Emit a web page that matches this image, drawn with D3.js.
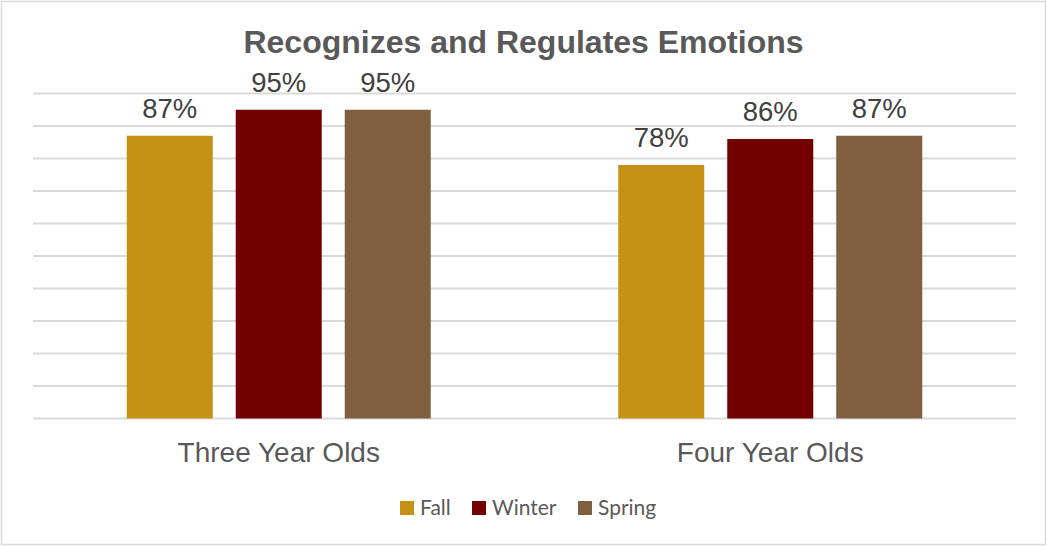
<!DOCTYPE html>
<meta charset="utf-8">
<body style="margin:0;background:#fff">
<div id="chart"></div>
<script src="https://d3js.org/d3.v7.min.js"></script>
<script>
var categories = ["Three Year Olds", "Four Year Olds"];
var seasons = ["Fall", "Winter", "Spring"];
var fall = [0.87, 0.78];
var winter = [0.95, 0.86];
var spring = [0.95, 0.87];
var yTicks = [0, 0.1, 0.2, 0.3, 0.4, 0.5, 0.6, 0.7, 0.8, 0.9, 1.0];

var colors = {Fall: "#C59214", Winter: "#720000", Spring: "#7F5F3F"};
var seriesVals = {Fall: fall, Winter: winter, Spring: spring};

var W = 1047, H = 546;
var margin = {top: 93.5, left: 33, right: 31, bottom: 127.5};
var width = W - margin.left - margin.right,
    height = H - margin.top - margin.bottom;

var svg = d3.select("#chart").append("svg")
  .attr("width", W).attr("height", H);

svg.append("rect")
  .attr("x", 1.5).attr("y", 1.5)
  .attr("width", W - 3).attr("height", H - 3)
  .attr("fill", "#fff").attr("stroke", "#D9D9D9").attr("stroke-width", 1.5);

svg.append("text")
  .attr("x", W / 2).attr("y", 53)
  .attr("text-anchor", "middle")
  .style("font-family", "Arial, 'Liberation Sans', sans-serif")
  .style("font-weight", "bold").style("font-size", "32px")
  .attr("fill", "#595959")
  .text("Recognizes and Regulates Emotions");

var g = svg.append("g").attr("transform", "translate(" + margin.left + "," + margin.top + ")");

var x0 = d3.scaleBand().domain(categories).range([0, width]);
var x1 = d3.scaleBand().domain(seasons).range([0, 304]).paddingInner(0.211);
var y = d3.scaleLinear().domain([0, 1]).range([height, 0]);

g.selectAll(".grid").data(yTicks).enter().append("line")
  .attr("x1", 0).attr("x2", width)
  .attr("y1", function(d) { return y(d); })
  .attr("y2", function(d) { return y(d); })
  .attr("stroke", "#D9D9D9").attr("stroke-width", 2);

var rows = [];
categories.forEach(function(c, i) {
  seasons.forEach(function(s) {
    rows.push({cat: c, s: s, v: seriesVals[s][i]});
  });
});

var groupOff = (x0.bandwidth() - 304) / 2;

g.selectAll(".bar").data(rows).enter().append("rect")
  .attr("x", function(d) { return x0(d.cat) + groupOff + x1(d.s); })
  .attr("width", x1.bandwidth())
  .attr("y", function(d) { return y(d.v); })
  .attr("height", function(d) { return height - y(d.v); })
  .attr("fill", function(d) { return colors[d.s]; });

g.selectAll(".lbl").data(rows).enter().append("text")
  .attr("x", function(d) { return x0(d.cat) + groupOff + x1(d.s) + x1.bandwidth() / 2; })
  .attr("y", function(d) { return y(d.v) - 18; })
  .attr("text-anchor", "middle")
  .style("font-family", "Arial, 'Liberation Sans', sans-serif")
  .style("font-size", "27.5px")
  .attr("fill", "#404040")
  .text(function(d) { return Math.round(d.v * 100) + "%"; });

g.selectAll(".cat").data(categories).enter().append("text")
  .attr("x", function(d) { return x0(d) + x0.bandwidth() / 2; })
  .attr("y", height + 43)
  .attr("text-anchor", "middle")
  .style("font-family", "Arial, 'Liberation Sans', sans-serif")
  .style("font-size", "28px")
  .attr("fill", "#595959")
  .text(function(d) { return d; });

// legend
var legX = [400, 472, 578];
var leg = svg.selectAll(".leg").data(seasons).enter().append("g")
  .attr("transform", function(d, i) { return "translate(" + legX[i] + ",501)"; });
leg.append("rect").attr("width", 14).attr("height", 14)
  .attr("fill", function(d) { return colors[d]; });
leg.append("text").attr("x", 20).attr("y", 14)
  .style("font-family", "Lato, 'Open Sans', sans-serif")
  .style("font-size", "21px")
  .attr("fill", "#595959")
  .text(function(d) { return d; });
</script>
</body>
